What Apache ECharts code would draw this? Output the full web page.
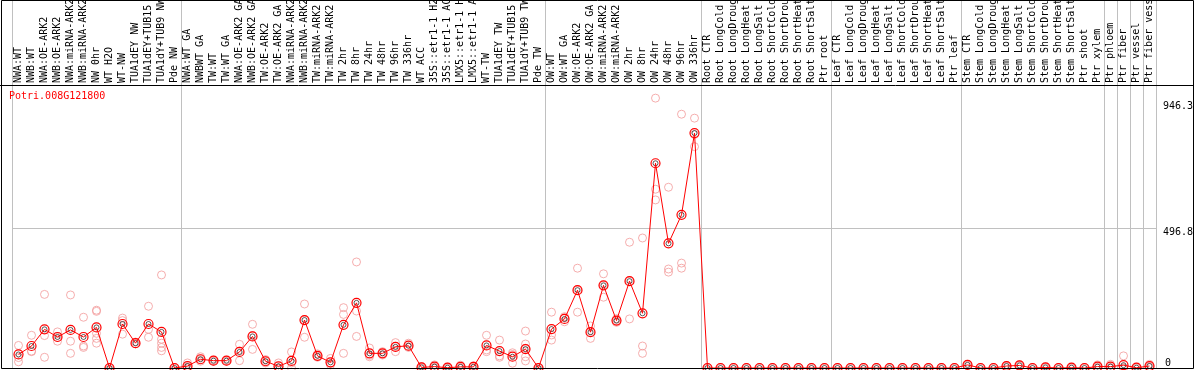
<!DOCTYPE html>
<html>
<head>
<meta charset="utf-8">
<script src="https://cdn.jsdelivr.net/npm/echarts@6/dist/echarts.min.js"></script>
<style>
html,body{margin:0;padding:0;background:#fff}
#chart{width:1194px;height:370px}
</style>
</head>
<body>
<div id="chart"></div>
<script>
var geneName = 'Potri.008G121800';

var categories = [
    'NWA:WT','NWB:WT','NWA:OE-ARK2','NWB:OE-ARK2','NWA:miRNA-ARK2','NWB:miRNA-ARK2','NW 0hr','WT H2O','WT-NW',
    'TUA1dEY NW','TUA1dEY+TUB15 NW','TUA1dY+TUB9 NW','Pde NW',
    'NWA:WT GA','NWBWT GA','TW:WT','TW:WT GA','NWA:OE-ARK2 GA','NWB:OE-ARK2 GA','TW:OE-ARK2','TW:OE-ARK2 GA',
    'NWA:miRNA-ARK2 GA','NWB:miRNA-ARK2 GA','TW:miRNA-ARK2','TW:miRNA-ARK2 GA',
    'TW 2hr','TW 8hr','TW 24hr','TW 48hr','TW 96hr','TW 336hr','WT ACC',
    '35S::etr1-1 H2O','35S::etr1-1 ACC','LMX5::etr1-1 H2O','LMX5::etr1-1 ACC',
    'WT-TW','TUA1dEY TW','TUA1dEY+TUB15 TW','TUA1dY+TUB9 TW','Pde TW',
    'OW:WT','OW:WT GA','OW:OE-ARK2','OW:OE-ARK2 GA','OW:miRNA-ARK2','OW:miRNA-ARK2 GA',
    'OW 2hr','OW 8hr','OW 24hr','OW 48hr','OW 96hr','OW 336hr',
    'Root CTR','Root LongCold','Root LongDrought','Root LongHeat','Root LongSalt',
    'Root ShortCold','Root ShortDrought','Root ShortHeat','Root ShortSalt','Ptr root',
    'Leaf CTR','Leaf LongCold','Leaf LongDrought','Leaf LongHeat','Leaf LongSalt',
    'Leaf ShortCold','Leaf ShortDrought','Leaf ShortHeat','Leaf ShortSalt','Ptr leaf',
    'Stem CTR','Stem LongCold','Stem LongDrought','Stem LongHeat','Stem LongSalt',
    'Stem ShortCold','Stem ShortDrought','Stem ShortHeat','Stem ShortSalt','Ptr shoot','Ptr xylem',
    'Ptr phloem','Ptr fiber','Ptr vessel','Ptr fiber vessel'
];

// mean expression per sample
var means = [
    48, 78, 137, 110, 135, 110, 144, 0, 156, 88, 156, 128, 0,
    7, 31, 26, 26, 57, 112, 24, 6, 25, 170, 43, 20, 153, 231, 52, 52, 75, 79,
    2, 5, 1, 4, 4, 80, 60, 40, 67, 0,
    138, 174, 276, 127, 293, 168, 308, 194, 726, 442, 543, 833,
    0, 0, 0, 0, 0, 0, 0, 0, 0, 0,
    0, 0, 0, 0, 0, 0, 0, 0, 0, 0,
    11, 0, 0, 7, 9, 0, 2, 0, 1, 0, 5,
    5, 10, 1, 7
];

// single replicates per sample
var replicates = [
    [80, 37, 22], [116, 58, 60], [261, 115, 38], [128, 109, 95], [259, 95, 52], [180, 78, 73],
    [205, 201, 123, 105, 88], [0, 0, 0], [177, 168, 120], [92, 86, 86], [219, 137, 109],
    [330, 102, 88, 73, 61], [0, 0, 0],
    [18, 4, 0], [40, 30, 24], [28, 26, 24], [28, 25, 24], [84, 60, 26], [155, 115, 66], [30, 24, 18],
    [18, 0, 0], [57, 18, 0], [227, 170, 109], [50, 42, 38], [34, 16, 11], [214, 190, 52],
    [376, 202, 112], [71, 45, 40], [58, 52, 46], [90, 77, 58], [88, 76, 73],
    [5, 2, 0], [11, 3, 0], [3, 0, 0], [10, 2, 0], [8, 3, 0], [116, 64, 58], [99, 43, 38],
    [54, 48, 17], [131, 85, 70, 40, 25], [0, 0, 0],
    [198, 117, 99], [182, 178, 164], [354, 276, 198], [149, 127, 105], [334, 293, 251],
    [175, 168, 162], [446, 308, 174], [461, 78, 52], [957, 634, 596], [641, 351, 340],
    [900, 372, 354], [886, 828, 785],
    [0, 0, 0], [0, 0, 0], [0, 0, 0], [0, 0, 0], [0, 0, 0], [0, 0, 0], [0, 0, 0], [0, 0, 0], [0, 0, 0], [0, 0, 0],
    [0, 0, 0], [0, 0, 0], [0, 0, 0], [0, 0, 0], [0, 0, 0], [0, 0, 0], [0, 0, 0], [0, 0, 0], [0, 0, 0], [0, 0, 0],
    [13, 11, 9], [0, 0, 0], [0, 0, 0], [9, 7, 5], [11, 9, 7], [0, 0, 0], [3, 2, 1], [0, 0, 0], [2, 1, 0],
    [0, 0, 0], [11, 4, 0],
    [13, 2, 0], [43, 0, 0], [2, 1, 0], [13, 5, 3]
];

// first sample of each tissue group (gray separators)
var groupStarts = [0, 13, 41, 53, 63, 73, 84, 85, 86, 87];
var yTickLabels = [496.8, 946.3];
var yZeroLabel = [0];
var yMax = 1000;

var font = 'DejaVu Sans Mono';

var repPoints = [];
for (var i = 0; i < replicates.length; i++) {
    for (var j = 0; j < replicates[i].length; j++) {
        repPoints.push([i, replicates[i][j]]);
    }
}

function isGroupStart(index) {
    return groupStarts.indexOf(index) >= 0;
}

var myChart = echarts.init(document.getElementById('chart'));
var option = {
    animation: false,
    title: {
        text: geneName,
        left: 9,
        top: 91,
        padding: 0,
        textStyle: {color: '#ff0000', fontFamily: font, fontSize: 10, fontWeight: 'normal'}
    },
    grid: [
        {left: 12, right: 38, top: 86, bottom: 2, outerBoundsMode: 'none', containLabel: false},
        {left: 12, right: 38, top: 0, height: 86, outerBoundsMode: 'none', containLabel: false}
    ],
    xAxis: [
        {
            type: 'category',
            gridIndex: 0,
            position: 'top',
            data: categories,
            axisLine: {show: false},
            axisTick: {show: false},
            axisLabel: {interval: 0, rotate: 90, margin: 3, align: 'left', verticalAlign: 'middle',
                fontFamily: font, fontSize: 10, color: '#000'},
            splitLine: {show: true, interval: isGroupStart, lineStyle: {color: '#c0c0c0', width: 1}}
        },
        {
            type: 'category',
            gridIndex: 1,
            data: categories,
            axisLine: {show: false},
            axisTick: {show: false},
            axisLabel: {show: false},
            splitLine: {show: true, interval: isGroupStart, lineStyle: {color: '#c0c0c0', width: 1}}
        }
    ],
    yAxis: [
        {
            type: 'value',
            gridIndex: 0,
            position: 'right',
            min: 0,
            max: yMax,
            axisLine: {show: false},
            axisTick: {show: false, customValues: [yTickLabels[0]]},
            axisLabel: {customValues: yTickLabels, verticalAlign: 'top', margin: 7, fontFamily: font, fontSize: 10, color: '#000'},
            splitLine: {show: true, lineStyle: {color: '#c0c0c0', width: 1}}
        },
        {
            type: 'value',
            gridIndex: 0,
            position: 'right',
            min: 0,
            max: yMax,
            axisLine: {show: false},
            axisTick: {show: false},
            axisLabel: {customValues: yZeroLabel, verticalAlign: 'bottom', margin: 9, fontFamily: font, fontSize: 10, color: '#000'},
            splitLine: {show: false}
        },
        {type: 'value', gridIndex: 1, show: false}
    ],
    graphic: [
        {type: 'rect', silent: true, z: 100, shape: {x: 1.5, y: 0.5, width: 1192, height: 368},
            style: {fill: 'none', stroke: '#000', lineWidth: 1}},
        {type: 'line', silent: true, z: 100, shape: {x1: 0, y1: 85.5, x2: 1194, y2: 85.5},
            style: {stroke: '#000', lineWidth: 1}}
    ],
    series: [
        {
            name: 'replicates',
            type: 'scatter',
            xAxisIndex: 0,
            yAxisIndex: 0,
            data: repPoints,
            symbol: 'circle',
            symbolSize: 8,
            itemStyle: {color: 'transparent', borderColor: '#f29a9a', borderWidth: 1}
        },
        {
            name: 'mean',
            type: 'line',
            xAxisIndex: 0,
            yAxisIndex: 0,
            data: means,
            showAllSymbol: true,
            symbol: 'circle',
            symbolSize: 9,
            lineStyle: {color: '#ff0000', width: 1},
            itemStyle: {color: 'transparent', borderColor: '#ff0000', borderWidth: 1.2}
        },
        {
            name: 'meanInner',
            type: 'scatter',
            xAxisIndex: 0,
            yAxisIndex: 0,
            data: means,
            symbol: 'circle',
            symbolSize: 5,
            itemStyle: {color: 'transparent', borderColor: '#000', borderWidth: 0.8}
        }
    ]
};
myChart.setOption(option);
</script>
</body>
</html>
